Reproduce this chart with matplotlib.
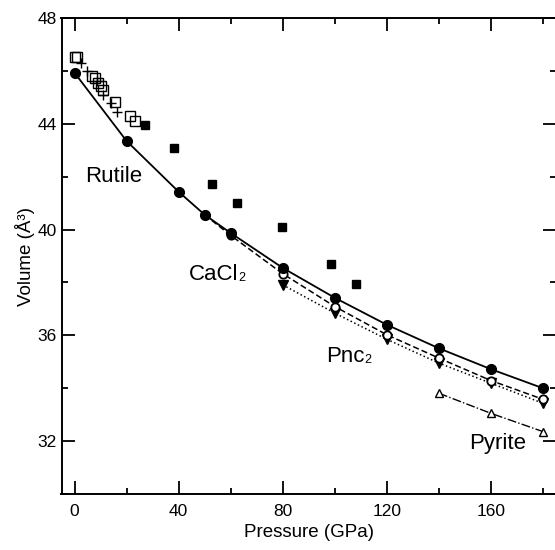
import matplotlib
matplotlib.use("Agg")
import matplotlib.pyplot as plt
from matplotlib.ticker import MultipleLocator

plt.rcParams['font.family'] = ['Liberation Sans', 'DejaVu Sans']

# Rutile / stable calculated (solid circles, solid line)
p_solid = [0, 20, 40, 50, 60, 80, 100, 120, 140, 160, 180]
v_solid = [45.93, 43.35, 41.43, 40.56, 39.87, 38.55, 37.42, 36.40, 35.51, 34.72, 34.00]

# CaCl2 (open circles, dashed line)
p_cacl2 = [50, 60, 80, 100, 120, 140, 160, 180]
v_cacl2 = [40.56, 39.78, 38.33, 37.09, 36.02, 35.14, 34.29, 33.58]

# Pnc2 (solid down triangles, dotted line)
p_pnc2 = [80, 100, 120, 140, 160, 180]
v_pnc2 = [37.91, 36.84, 35.85, 34.95, 34.19, 33.43]

# Pyrite (open up triangles, dash-dot line)
p_pyr = [140, 160, 180]
v_pyr = [33.81, 33.05, 32.36]

# Experimental: solid squares
p_exp1 = [27.1, 38.2, 52.8, 62.5, 79.8, 98.4, 108.1]
v_exp1 = [43.94, 43.10, 41.73, 41.02, 40.09, 38.70, 37.95]

# Experimental: open squares
p_exp2 = [0.2, 1.1, 6.8, 7.9, 9.1, 10.2, 11.1, 15.6, 21.3, 23.2]
v_exp2 = [46.52, 46.52, 45.79, 45.73, 45.54, 45.41, 45.29, 44.84, 44.28, 44.09]

# Experimental: crosses
p_exp3 = [2.5, 4.7, 8.5, 11.0, 14.0, 16.5]
v_exp3 = [46.30, 46.00, 45.60, 45.10, 44.80, 44.45]

# Phase labels: (main text, subscript, x, y)
labels = [('Rutile', '', 15.2, 42.0),
          ('CaCl', '2', 53.5, 38.3),
          ('Pnc', '2', 104.0, 35.2),
          ('Pyrite', '', 162.7, 31.9)]

fig = plt.figure(figsize=(5.55, 5.5), dpi=100)
ax = fig.add_axes([61.5/555, 56/550, (556-61.5)/555, (494-18)/550])

ax.plot(p_solid, v_solid, '-', color='black', lw=1.3, marker='o', ms=7, zorder=5)
ax.plot(p_cacl2, v_cacl2, '--', color='black', lw=1.1, marker='o', ms=6,
        mfc='white', mec='black', mew=1.3, dashes=(4, 2), zorder=4)
ax.plot(p_pnc2, v_pnc2, ':', color='black', lw=1.1, marker='v', ms=7, zorder=3)
ax.plot(p_pyr, v_pyr, '-.', color='black', lw=1.0, marker='^', ms=5.5,
        mfc='white', mec='black', mew=1.0, zorder=3)
ax.plot(p_exp1, v_exp1, 's', color='black', ms=6, ls='none')
ax.plot(p_exp2, v_exp2, 's', mfc='none', mec='black', mew=1.0, ms=6.5, ls='none')
ax.plot(p_exp3, v_exp3, '+', color='black', mew=1.0, ms=7, ls='none')

ax.set_xlim(-5, 185)
ax.set_ylim(30, 48)
ax.xaxis.set_major_locator(MultipleLocator(40))
ax.xaxis.set_minor_locator(MultipleLocator(20))
ax.yaxis.set_major_locator(MultipleLocator(4))
ax.yaxis.set_minor_locator(MultipleLocator(2))
ax.tick_params(which='both', direction='in', top=True, right=True, width=1.3)
ax.tick_params(which='major', length=9.5, labelsize=12.5)
ax.tick_params(which='minor', length=4.5)
ax.tick_params(axis='x', which='major', pad=7)
for s in ax.spines.values():
    s.set_linewidth(1.4)

ax.set_xlabel('Pressure (GPa)', fontsize=13.5, labelpad=4)
ax.set_ylabel('Volume (Å³)', fontsize=13.5, labelpad=2)

for main, sub, x, y in labels:
    if sub:
        t = ax.text(x, y, main, fontsize=16, ha='center', va='center')
        ax.annotate(sub, xy=(1.0, 0.05), xycoords=t, fontsize=9,
                    ha='left', va='bottom')
    else:
        ax.text(x, y, main, fontsize=16, ha='center', va='center')

fig.savefig('out.png', dpi=100)
